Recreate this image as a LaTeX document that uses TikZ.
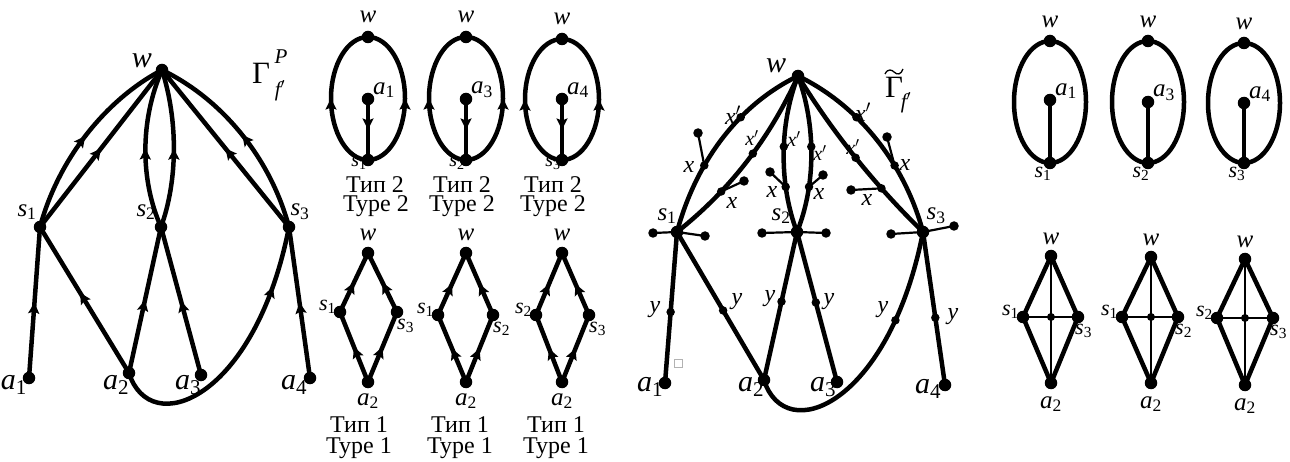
\documentclass[tikz,border=0pt]{standalone}
\usepackage{fontspec}
\setmainfont{Liberation Serif}
\usetikzlibrary{arrows.meta,decorations.markings}
\newcommand\lb[2]{\textit{#1}\textsubscript{#2}}
\tikzset{
  dot/.style={circle,fill=black,inner sep=0pt,minimum size=12.5pt},
  sdot/.style={circle,fill=black,inner sep=0pt,minimum size=8.5pt},
  leaf/.style={circle,fill=black,inner sep=0pt,minimum size=9.5pt},
  cdot/.style={circle,fill=black,inner sep=0pt,minimum size=8pt},
  edge/.style={line width=4.5pt},
  twig/.style={line width=2.2pt},
  hair/.style={line width=1.7pt},
  midarrow/.style={postaction={decorate},decoration={markings,mark=at position #1 with {\arrow{Stealth[length=11pt,width=11pt,inset=2pt]}}}},
  midarrow/.default=0.5,
  biglab/.style={font=\fontsize{30}{30}\selectfont,inner sep=0pt},
  gamlab/.style={font=\fontsize{31}{31}\selectfont,inner sep=0pt},
  scrlab/.style={font=\fontsize{21}{21}\selectfont\itshape,inner sep=0pt},
  bigs/.style={font=\fontsize{25}{25}\selectfont,inner sep=0pt},
  lab/.style={font=\fontsize{25}{25}\selectfont,inner sep=0pt},
  labs/.style={font=\fontsize{22}{22}\selectfont,inner sep=0pt},
  labss/.style={font=\fontsize{20}{20}\selectfont,inner sep=0pt},
  xlab/.style={font=\fontsize{24}{24}\selectfont\itshape,inner sep=0pt},
  xplab/.style={font=\fontsize{20}{20}\selectfont\itshape,inner sep=0pt},
  txt/.style={font=\fontsize{24}{24}\selectfont,inner sep=0pt,anchor=base},
}
\begin{document}
\begin{tikzpicture}[x=1pt,y=-1pt]
\useasboundingbox (0,0) rectangle (1290,462);
% ================= Graph 1 =================
\node[dot] (Aw) at (162,70) {};
\node[dot] (As1) at (40,227) {};
\node[dot] (As2) at (161,227) {};
\node[dot] (As3) at (289,227) {};
\node[dot] (Aa1) at (29,378) {};
\node[dot] (Aa2) at (129,373) {};
\node[dot] (Aa3) at (201,375) {};
\node[dot] (Aa4) at (310,378) {};
\draw[edge,midarrow] (As1.center) .. controls (58,160) and (105,100) .. (Aw.center);
\draw[edge,midarrow] (As1.center) -- (Aw.center);
\draw[edge,midarrow] (As2.center) .. controls (140,180) and (140,120) .. (Aw.center);
\draw[edge,midarrow] (As2.center) .. controls (178,180) and (178,120) .. (Aw.center);
\draw[edge,midarrow] (As3.center) -- (Aw.center);
\draw[edge,midarrow] (As3.center) .. controls (271,160) and (224,100) .. (Aw.center);
\draw[edge,midarrow] (Aa1.center) -- (As1.center);
\draw[edge,midarrow=0.55] (Aa2.center) -- (As1.center);
\draw[edge,midarrow] (Aa2.center) -- (As2.center);
\draw[edge,midarrow] (Aa3.center) -- (As2.center);
\draw[edge,midarrow=0.78] (Aa2.center) .. controls (150,440) and (255,400) .. (As3.center);
\draw[edge,midarrow] (Aa4.center) -- (As3.center);
\node[biglab] (AwL) at (142,61) {\textit{w}};
\node[gamlab] (AgL) at (261,73) {Γ};
\node[scrlab] (AgP) at (281,57) {P};
\node[scrlab] (AgF) at (280,91) {f$'$};
\node[bigs] (As1L) at (27,212) {\lb{s}{1}};
\node[bigs] (As2L) at (146,212) {\lb{s}{2}};
\node[bigs] (As3L) at (300,212) {\lb{s}{3}};
\node[biglab] (Aa1L) at (14,385) {\lb{a}{1}};
\node[biglab] (Aa2L) at (116,385) {\lb{a}{2}};
\node[biglab] (Aa3L) at (188,385) {\lb{a}{3}};
\node[biglab] (Aa4L) at (294,385) {\lb{a}{4}};
% ================= Panel 2: type 2 =================
\foreach \i/\cx/\wy/\aa/\ss in {1/368/37/1/1, 2/466/37/3/2, 3/562/39/4/3} {
  \node[dot] (Bw\i) at (\cx,\wy) {};
  \node[dot] (Bs\i) at (\cx,160) {};
  \node[dot] (Ba\i) at (\cx,99) {};
  \pgfmathsetmacro\ry{(160-\wy)/2}
  \draw[edge,midarrow] (Bs\i.center) arc[start angle=90,end angle=-90,x radius=37,y radius=\ry];
  \draw[edge,midarrow] (Bs\i.center) arc[start angle=90,end angle=270,x radius=37,y radius=\ry];
  \draw[edge,midarrow] (Ba\i.center) -- (Bs\i.center);
  \node[lab] (BwL\i) at (\cx,\wy-20) {\textit{w}};
  \node[lab,anchor=west] (BaL\i) at (\cx+5,90) {\lb{a}{\aa}};
  \node[labss] (BsL\i) at (\cx-9,163) {\lb{s}{\ss}};
}
\node[txt] (Bt1) at (375,193) {Тип 2};
\node[txt] (Bt2) at (462,193) {Тип 2};
\node[txt] (Bt3) at (553,193) {Тип 2};
\node[txt] (Bu1) at (376,212) {Type 2};
\node[txt] (Bu2) at (462,212) {Type 2};
\node[txt] (Bu3) at (553,212) {Type 2};
% ================= Panel 2: type 1 =================
\foreach \i/\cx/\lx/\rx/\sy/\ll/\rr in {1/368/340/397/312/1/3, 2/466/438/493/315/1/2, 3/562/536/589/315/2/3} {
  \node[dot] (Cw\i) at (\cx,253) {};
  \node[dot] (Cl\i) at (\lx,\sy) {};
  \node[dot] (Cr\i) at (\rx,\sy) {};
  \node[dot] (Ca\i) at (\cx,382) {};
  \draw[edge,midarrow] (Ca\i.center) -- (Cl\i.center);
  \draw[edge,midarrow] (Cl\i.center) -- (Cw\i.center);
  \draw[edge,midarrow] (Ca\i.center) -- (Cr\i.center);
  \draw[edge,midarrow] (Cr\i.center) -- (Cw\i.center);
  \node[lab] (CwL\i) at (\cx,235) {\textit{w}};
  \node[labs,anchor=east] (ClL\i) at (\lx-4,\sy-5) {\lb{s}{\ll}};
  \node[labs,anchor=west] (CrL\i) at (\rx,\sy+14) {\lb{s}{\rr}};
  \node[lab] (CaL\i) at (\cx,401) {\lb{a}{2}};
}
\node[txt] (Ct1) at (359,432) {Тип 1};
\node[txt] (Ct2) at (460,432) {Тип 1};
\node[txt] (Ct3) at (556,432) {Тип 1};
\node[txt] (Cu1) at (359,453) {Type 1};
\node[txt] (Cu2) at (460,453) {Type 1};
\node[txt] (Cu3) at (556,453) {Type 1};
% ================= Graph 3 =================
\node[dot] (Gw) at (798,76) {};
\node[dot] (Gs1) at (677,232) {};
\node[dot] (Gs2) at (797,232) {};
\node[dot] (Gs3) at (923,232) {};
\node[dot] (Ga1) at (665,383) {};
\node[dot] (Ga2) at (764,380) {};
\node[dot] (Ga3) at (837,382) {};
\node[dot] (Ga4) at (945,385) {};
\draw[edge] (Gs1.center) .. controls (695,165) and (736,106) .. (Gw.center)
   node[sdot,pos=0.35] (Gx1) {} node[sdot,pos=0.65] (Gp1) {};
\draw[edge] (Gs1.center) .. controls (730,190) and (770,138) .. (Gw.center)
   node[sdot,pos=0.3] (Gx2) {} node[sdot,pos=0.55] (Gp2) {};
\draw[edge] (Gs2.center) .. controls (779,185) and (779,125) .. (Gw.center)
   node[sdot,pos=0.3] (Gx3) {} node[sdot,pos=0.55] (Gp3) {};
\draw[edge] (Gs2.center) .. controls (816,185) and (816,125) .. (Gw.center)
   node[sdot,pos=0.3] (Gx4) {} node[sdot,pos=0.55] (Gp4) {};
\draw[edge] (Gs3.center) .. controls (875,185) and (833,133) .. (Gw.center)
   node[sdot,pos=0.3] (Gx5) {} node[sdot,pos=0.5] (Gp5) {};
\draw[edge] (Gs3.center) .. controls (905,165) and (860,106) .. (Gw.center)
   node[sdot,pos=0.35] (Gx6) {} node[sdot,pos=0.65] (Gp6) {};
\draw[edge] (Gs1.center) -- (Ga1.center) node[sdot,pos=0.53] (Gy1) {};
\draw[edge] (Gs1.center) -- (Ga2.center) node[sdot,pos=0.53] (Gy2) {};
\draw[edge] (Gs2.center) -- (Ga2.center) node[sdot,pos=0.47] (Gy3) {};
\draw[edge] (Gs2.center) -- (Ga3.center) node[sdot,pos=0.47] (Gy4) {};
\draw[edge] (Ga2.center) .. controls (785,447) and (889,405) .. (Gs3.center) node[sdot,pos=0.8] (Gy5) {};
\draw[edge] (Gs3.center) -- (Ga4.center) node[sdot,pos=0.56] (Gy6) {};
% pendants
\node[leaf] (Gl1) at (698,133) {};
\node[leaf] (Gl2) at (744,181) {};
\node[leaf] (Gl3) at (770,172) {};
\node[leaf] (Gl4) at (823,175) {};
\node[leaf] (Gl5) at (851,190) {};
\node[leaf] (Gl6) at (887,137) {};
\draw[twig] (Gx1.center) -- (Gl1.center);
\draw[twig] (Gx2.center) -- (Gl2.center);
\draw[twig] (Gx3.center) -- (Gl3.center);
\draw[twig] (Gx4.center) -- (Gl4.center);
\draw[twig] (Gx5.center) -- (Gl5.center);
\draw[twig] (Gx6.center) -- (Gl6.center);
\node[leaf] (Gk1) at (653,233) {};
\node[leaf] (Gk2) at (705,236) {};
\node[leaf] (Gk3) at (762,233) {};
\node[leaf] (Gk4) at (826,233) {};
\node[leaf] (Gk5) at (891,234) {};
\node[leaf] (Gk6) at (954,226) {};
\draw[twig] (Gs1.center) -- (Gk1.center);
\draw[twig] (Gs1.center) -- (Gk2.center);
\draw[twig] (Gs2.center) -- (Gk3.center);
\draw[twig] (Gs2.center) -- (Gk4.center);
\draw[twig] (Gs3.center) -- (Gk5.center);
\draw[twig] (Gs3.center) -- (Gk6.center);
\node[draw=black!30,line width=0.8pt,minimum size=8pt,inner sep=0pt] (Gsq) at (678,363) {};
% labels graph 3
\node[biglab] (GwL) at (776,66) {\textit{w}};
\node[gamlab] (GgL) at (894,87) {Γ};
\draw[line width=1.3pt] (885,74) .. controls (888,68) and (892,70) .. (894,72) .. controls (897,75) and (901,75) .. (903,69);
\node[scrlab] (GgF) at (906,103) {f$'$};
\node[bigs] (Gs1L) at (667,216) {\lb{s}{1}};
\node[bigs] (Gs2L) at (781,216) {\lb{s}{2}};
\node[bigs] (Gs3L) at (936,216) {\lb{s}{3}};
\node[biglab] (Ga1L) at (650,387) {\lb{a}{1}};
\node[biglab] (Ga2L) at (751,387) {\lb{a}{2}};
\node[biglab] (Ga3L) at (823,387) {\lb{a}{3}};
\node[biglab] (Ga4L) at (928,389) {\lb{a}{4}};
\node[xlab] (GpL1) at (733,115) {x$'$};
\node[xplab] (GpL2) at (752,138) {x$'$};
\node[xplab] (GpL3) at (794,139) {x$'$};
\node[xplab] (GpL4) at (820,153) {x$'$};
\node[xplab] (GpL5) at (853,147) {x$'$};
\node[xlab] (GpL6) at (863,112) {x$'$};
\node[xlab] (GxL1) at (689,167) {x};
\node[xlab] (GxL2) at (732,203) {x};
\node[xlab] (GxL3) at (772,192) {x};
\node[xlab] (GxL4) at (819,194) {x};
\node[xlab] (GxL5) at (867,200) {x};
\node[xlab] (GxL6) at (905,165) {x};
\node[xlab] (GyL1) at (655,310) {y};
\node[xlab] (GyL2) at (737,302) {y};
\node[xlab] (GyL3) at (770,299) {y};
\node[xlab] (GyL4) at (829,302) {y};
\node[xlab] (GyL5) at (883,310) {y};
\node[xlab] (GyL6) at (953,317) {y};
% ================= Panel 4: ovals =================
\foreach \i/\cx/\wy/\ay/\aa/\ss in {1/1050/41/100/1/1, 2/1148/41/102/3/2, 3/1244/43/103/4/3} {
  \node[dot] (Ew\i) at (\cx,\wy) {};
  \node[dot] (Es\i) at (\cx,163) {};
  \node[dot] (Ea\i) at (\cx,\ay) {};
  \pgfmathsetmacro\ry{(163-\wy)/2}
  \draw[edge] (Es\i.center) arc[start angle=90,end angle=-270,x radius=36,y radius=\ry];
  \draw[edge] (Ea\i.center) -- (Es\i.center);
  \node[lab] (EwL\i) at (\cx,\wy-19) {\textit{w}};
  \node[lab,anchor=west] (EaL\i) at (\cx+5,\ay-9) {\lb{a}{\aa}};
  \node[labs] (EsL\i) at (\cx-7,174) {\lb{s}{\ss}};
}
% ================= Panel 4: diamonds =================
\foreach \i/\cx/\wy/\lx/\rx/\sy/\ay/\ll/\rr in {1/1051/256/1023/1078/317/383/1/3, 2/1151/257/1122/1178/317/383/1/2, 3/1245/259/1217/1273/318/385/2/3} {
  \node[dot] (Fw\i) at (\cx,\wy) {};
  \node[dot] (Fl\i) at (\lx,\sy) {};
  \node[dot] (Fr\i) at (\rx,\sy) {};
  \node[dot] (Fa\i) at (\cx,\ay) {};
  \node[cdot] (Fc\i) at (\cx,\sy) {};
  \draw[edge] (Fw\i.center) -- (Fl\i.center) -- (Fa\i.center) -- (Fr\i.center) -- cycle;
  \draw[hair] (Fw\i.center) -- (Fa\i.center);
  \draw[hair] (Fl\i.center) -- (Fr\i.center);
  \node[lab] (FwL\i) at (\cx,\wy-17) {\textit{w}};
  \node[labs,anchor=east] (FlL\i) at (\lx-4,\sy-5) {\lb{s}{\ll}};
  \node[labs,anchor=west] (FrL\i) at (\rx-3,\sy+14) {\lb{s}{\rr}};
  \node[lab] (FaL\i) at (\cx,\ay+21) {\lb{a}{2}};
}
\end{tikzpicture}
\end{document}
